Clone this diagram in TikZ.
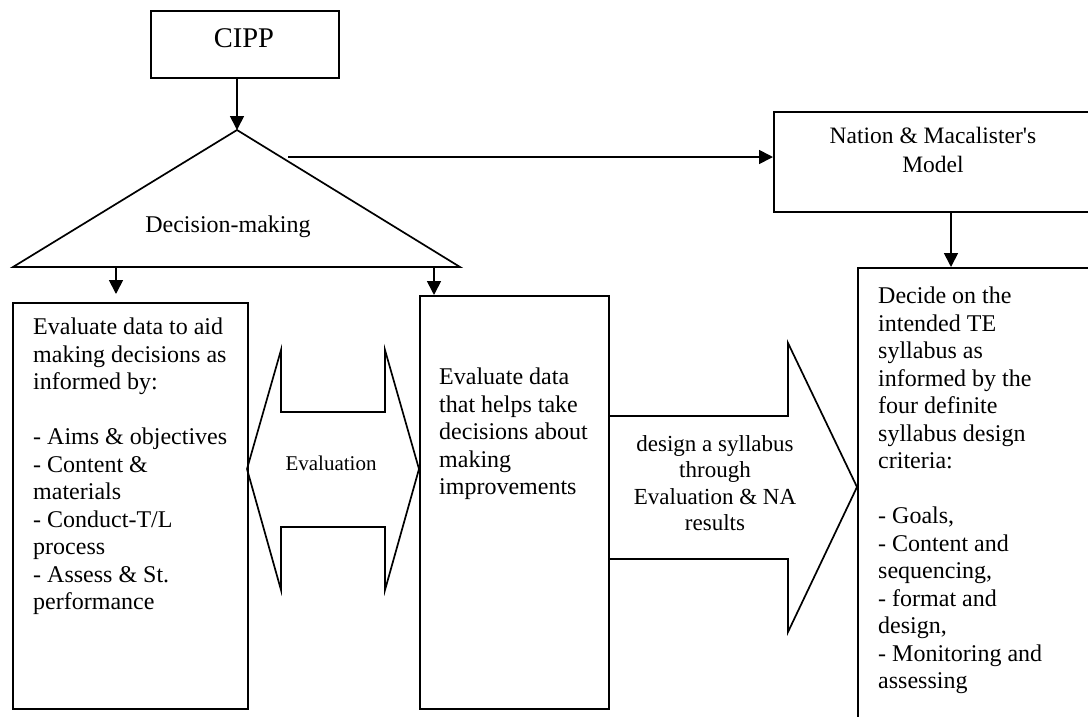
\documentclass[tikz,border=0pt]{standalone}
\usepackage{fontspec}
\setmainfont{Liberation Serif}
% plain face without TeX ligatures, for a straight apostrophe
\newfontfamily\plainserif{Liberation Serif}
\usetikzlibrary{arrows.meta}

\tikzset{
  ln/.style={line width=1.7pt, line join=miter},
  box/.style={ln, draw, rectangle, inner sep=0pt, anchor=north west},
  arr/.style={ln, -{Triangle[length=14pt,width=14pt]}},
  body/.style={inner sep=0pt, font=\fontsize{24}{27.5}\selectfont, align=left},
}

\begin{document}
\begin{tikzpicture}[x=1pt, y=-1pt]
  \clip (0,0) rectangle (1088,716);
  \fill[white] (0,0) rectangle (1088,716);

  % boxes
  \node[box, minimum width=188pt, minimum height=67pt] (cipp) at (150,10) {};
  \node[box, minimum width=330pt, minimum height=100pt] (nation) at (773,111) {};
  \node[box, minimum width=235pt, minimum height=406pt] (left) at (12,302) {};
  \node[box, minimum width=189pt, minimum height=413pt] (mid) at (419,295) {};
  \node[box, minimum width=250pt, minimum height=470pt] (right) at (857,267) {};

  % decision triangle
  \coordinate (apex) at (237,130);
  \coordinate (tl) at (13,267);
  \coordinate (tr) at (460,267);
  \draw[ln] (apex) -- (tl) -- (tr) -- cycle;

  % evaluation double arrow
  \draw[ln] (247,469) -- (281,350) -- (281,412) -- (385,412) -- (385,350)
    -- (419,469) -- (385,590) -- (385,527) -- (281,527) -- (281,590) -- cycle;

  % block arrow towards the syllabus box
  \draw[ln] (mid.east |- 0,416) -- (788,416) -- (788,343) -- (right.west |- 0,487)
    -- (788,632) -- (788,559) -- (mid.east |- 0,559);

  % texts
  \node[anchor=base, inner sep=0pt, font=\fontsize{28.5}{32}\selectfont] (tcipp) at (244,47) {CIPP};
  \node[anchor=base, inner sep=0pt, font=\fontsize{24}{27.5}\selectfont] (tdec) at (228,232) {Decision-making};
  \node[anchor=base, inner sep=0pt, font=\fontsize{21}{24}\selectfont] (teval) at (331,470) {Evaluation};
  \node[anchor=north, inner sep=0pt, align=center, font=\fontsize{23.5}{29}\selectfont] (tnation) at (933,127)
    {Nation \& Macalister{\plainserif '}s\\Model};
  \node[anchor=north, inner sep=0pt, align=center, font=\fontsize{23}{26.5}\selectfont] (tdesign) at (715,435)
    {design a syllabus\\through\\Evaluation \& NA\\results};
  \node[body, anchor=north west] (tleft) at (33,318)
    {Evaluate data to aid\\making decisions as\\informed by:\\[27.5pt]- Aims \& objectives\\- Content \&\\materials\\- Conduct-T/L\\process\\- Assess \& St.\\performance};
  \node[body, anchor=north west] (tmid) at (439,368)
    {Evaluate data\\that helps take\\decisions about\\making\\improvements};
  \node[body, anchor=north west] (tright) at (878,287)
    {Decide on the\\intended TE\\syllabus as\\informed by the\\four definite\\syllabus design\\criteria:\\[27.5pt]- Goals,\\- Content and\\sequencing,\\- format and\\design,\\- Monitoring and\\assessing};

  % connectors
  \draw[arr] (cipp.south -| apex) -- (apex);
  \coordinate (hstart) at (288,157);
  \draw[arr] (hstart) -- (hstart -| nation.west);
  \coordinate (dl) at (116,267);
  \draw[arr, shorten >=8pt] (dl) -- (dl |- left.north);
  \coordinate (dr) at (434,267);
  \draw[arr] (dr) -- (dr |- mid.north);
  \coordinate (nd) at (951,211);
  \draw[arr] (nd) -- (nd |- right.north);
\end{tikzpicture}
\end{document}
